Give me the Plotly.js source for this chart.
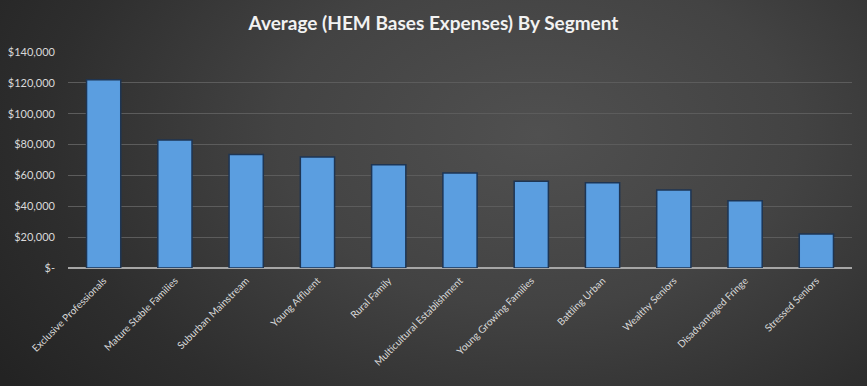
<!DOCTYPE html>
<html>
<head>
<meta charset="utf-8">
<script src="https://cdn.plot.ly/plotly-3.0.1.min.js"></script>
<style>
  html, body { margin: 0; padding: 0; }
  #chart {
    width: 867px; height: 386px;
    background: radial-gradient(ellipse 75% 110% at 62% 35%, #505050 0%, #434343 40%, #2e2e2e 75%, #232323 100%);
  }
</style>
</head>
<body>
<div id="chart"></div>
<script>
const categories = [
  "Exclusive Professionals", "Mature Stable Families", "Suburban Mainstream",
  "Young Affluent", "Rural Family", "Multicultural Establishment",
  "Young Growing Families", "Battling Urban", "Wealthy Seniors",
  "Disadvantaged Fringe", "Stressed Seniors"
];
const values = [122000, 83000, 73600, 72000, 66900, 61500, 56300, 55200, 50500, 43600, 22000];
const tickValues = [0, 20000, 40000, 60000, 80000, 100000, 120000, 140000];
const tickLabels = ["$-", "$20,000", "$40,000", "$60,000", "$80,000", "$100,000", "$120,000", "$140,000"];
const chartTitle = "Average (HEM Bases Expenses) By Segment";

const trace = {
  type: "bar",
  x: categories,
  y: values,
  marker: {
    color: "#5b9ee0",
    line: { color: "#1e3553", width: 1.5 }
  },
  hoverinfo: "x+y"
};

const layout = {
  width: 867, height: 386,
  paper_bgcolor: "rgba(0,0,0,0)",
  plot_bgcolor: "rgba(0,0,0,0)",
  margin: { l: 68, r: 15, t: 52, b: 118 },
  bargap: 0.52,
  showlegend: false,
  title: {
    text: "<b>" + chartTitle + "</b>",
    font: { family: "Lato, 'Open Sans', sans-serif", size: 19, color: "#f2f2f2" },
    x: 0.5, xanchor: "center", y: 0.94, yanchor: "middle"
  },
  xaxis: {
    tickangle: -45,
    tickfont: { family: "Lato, 'Open Sans', sans-serif", size: 10, color: "#d9d9d9" },
    showgrid: false,
    showline: false,
    ticks: "",
    zeroline: false,
    ticklabelstandoff: 4
  },
  yaxis: {
    range: [0, 140000],
    tickvals: tickValues,
    ticktext: tickLabels,
    tickfont: { family: "Lato, 'Open Sans', sans-serif", size: 11, color: "#d9d9d9" },
    showgrid: true,
    gridcolor: "#5c5c5c",
    gridwidth: 1,
    zeroline: true,
    zerolinecolor: "#a6a6a6",
    zerolinewidth: 1.5,
    showline: false,
    ticks: "",
    ticklabelstandoff: 12
  }
};

Plotly.newPlot("chart", [trace], layout, { displayModeBar: false, staticPlot: true });
</script>
</body>
</html>
